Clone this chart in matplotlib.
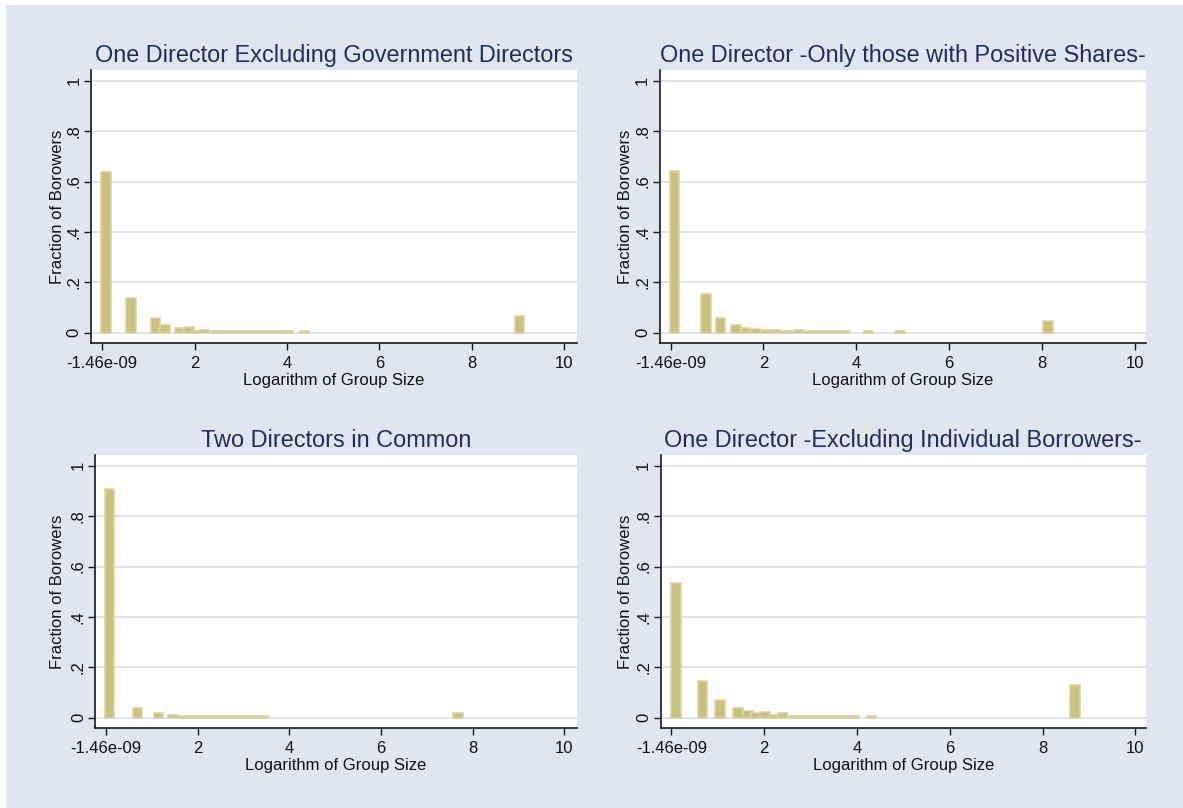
import matplotlib
matplotlib.use("Agg")
import matplotlib.pyplot as plt
from matplotlib.patches import Rectangle
from matplotlib.transforms import blended_transform_factory

# ---------------------------------------------------------------------------
# Histogram data: bin midpoints (log of group size) and fraction of borrowers
# ---------------------------------------------------------------------------
titles = [
    "One Director Excluding Government Directors",
    "One Director -Only those with Positive Shares-",
    "Two Directors in Common",
    "One Director -Excluding Individual Borrowers-",
]

gov_x = [0.08, 0.62, 1.15, 1.36, 1.67, 1.88, 2.04, 2.22, 2.45, 2.55, 2.77,
         2.98, 3.18, 3.38, 3.58, 3.78, 3.98, 4.03, 4.38, 9.03]
gov_frac = [0.637, 0.137, 0.058, 0.031, 0.019, 0.024, 0.007, 0.011, 0.007, 0.007, 0.008,
            0.005, 0.005, 0.005, 0.005, 0.005, 0.005, 0.005, 0.005, 0.067]

pos_x = [0.085, 0.76, 1.08, 1.415, 1.615, 1.815, 2.045, 2.265, 2.45, 2.56, 2.755,
         2.97, 3.17, 3.37, 3.57, 3.77, 4.27, 4.945, 8.135]
pos_frac = [0.643, 0.155, 0.058, 0.031, 0.019, 0.013, 0.009, 0.011, 0.007, 0.007, 0.009,
            0.005, 0.005, 0.005, 0.005, 0.005, 0.005, 0.005, 0.048]

two_x = [0.08, 0.69, 1.14, 1.46, 1.66, 1.86, 2.06, 2.26, 2.46, 2.66, 2.86,
         3.06, 3.26, 3.43, 7.68]
two_frac = [0.908, 0.040, 0.018, 0.011, 0.007, 0.007, 0.007, 0.007, 0.007, 0.007, 0.007,
            0.007, 0.007, 0.007, 0.018]

ind_x = [0.095, 0.675, 1.05, 1.43, 1.65, 1.825, 2.015, 2.20, 2.39, 2.61, 2.81,
         3.01, 3.21, 3.41, 3.61, 3.81, 3.95, 4.31, 8.70]
ind_frac = [0.536, 0.146, 0.071, 0.038, 0.027, 0.018, 0.023, 0.011, 0.018, 0.007, 0.007,
            0.007, 0.007, 0.007, 0.007, 0.007, 0.007, 0.007, 0.130]

series = [(gov_x, gov_frac), (pos_x, pos_frac), (two_x, two_frac), (ind_x, ind_frac)]

x_ticks = [-1.46e-09, 2, 4, 6, 8, 10]
x_tick_labels = ["-1.46e-09", "2", "4", "6", "8", "10"]
y_ticks = [0, 0.2, 0.4, 0.6, 0.8, 1.0]
y_tick_labels = ["0", ".2", ".4", ".6", ".8", "1"]

x_label = "Logarithm of Group Size"
y_label = "Fraction of Borowers"

# ---------------------------------------------------------------------------
# Styling
# ---------------------------------------------------------------------------
W, H, DPI = 1183, 808, 100
BG = "#E0E5EF"
GRID = "#DCE1EC"
BAR_FILL = "#CBC17E"
BAR_EDGE = "#DAD39F"
TITLE_C = "#1E2F5E"
TEXT_C = "#111111"
BIN_W = 0.205
FONT = "Liberation Sans"

plt.rcParams["font.family"] = [FONT, "DejaVu Sans"]

fig = plt.figure(figsize=(W / DPI, H / DPI), dpi=DPI, facecolor="white")

# light graph region (thin white margin at the left and top)
fig.patches.append(Rectangle((6 / W, 0), 1 - 6 / W, 1 - 5 / H,
                             transform=fig.transFigure, facecolor=BG,
                             edgecolor="none", zorder=-10))

# panel frames in pixels: left, top, right, bottom ; x range ; y-label centre
panels = [
    ((90.7, 70.0, 576.8, 343.3), (-0.247, 10.27), 58.0),
    ((659.5, 70.0, 1145.7, 343.3), (-0.239, 10.24), 626.0),
    ((95.4, 455.0, 576.8, 728.3), (-0.231, 10.27), 58.0),
    ((660.6, 455.0, 1145.7, 728.3), (-0.233, 10.22), 626.0),
]

for (frame, xlim, ylab_px), title, (xs, fr) in zip(panels, titles, series):
    l, t, r, b = frame
    ax = fig.add_axes([l / W, 1 - b / H, (r - l) / W, (b - t) / H])
    ax.set_facecolor("white")
    ax.set_xlim(*xlim)
    ax.set_ylim(-0.042, 1.043)

    ax.bar(xs, fr, width=BIN_W, color=BAR_FILL, edgecolor=BAR_EDGE,
           linewidth=1.1, zorder=3)

    for side in ("top", "right"):
        ax.spines[side].set_visible(False)
    for side in ("left", "bottom"):
        ax.spines[side].set_color("#1a1a1a")
        ax.spines[side].set_linewidth(1.2)

    ax.set_xticks(x_ticks)
    ax.set_xticklabels(x_tick_labels)
    ax.set_yticks(y_ticks)
    ax.set_yticklabels(y_tick_labels, rotation=90, va="center")
    ax.tick_params(axis="both", direction="out", length=5.3, width=1.0,
                   color="#1a1a1a", labelsize=12, labelcolor=TEXT_C)
    ax.tick_params(axis="x", pad=3.5)
    ax.tick_params(axis="y", pad=1.5)

    ax.yaxis.grid(True, color=GRID, linewidth=1.3)
    ax.xaxis.grid(False)
    ax.set_axisbelow(True)

    ax.set_title(title, fontsize=16.9, color=TITLE_C, pad=5.6)

    ax.set_xlabel(x_label, fontsize=12, color=TEXT_C, va="top")
    ax.xaxis.set_label_coords(0.5, 1 - (b + 29.5) / H,
                              transform=blended_transform_factory(ax.transAxes, fig.transFigure))
    ax.set_ylabel(y_label, fontsize=12, color=TEXT_C, va="center")
    ax.yaxis.set_label_coords(ylab_px / W, 0.5,
                              transform=blended_transform_factory(fig.transFigure, ax.transAxes))

fig.savefig("out.png", dpi=DPI, facecolor=fig.get_facecolor())
